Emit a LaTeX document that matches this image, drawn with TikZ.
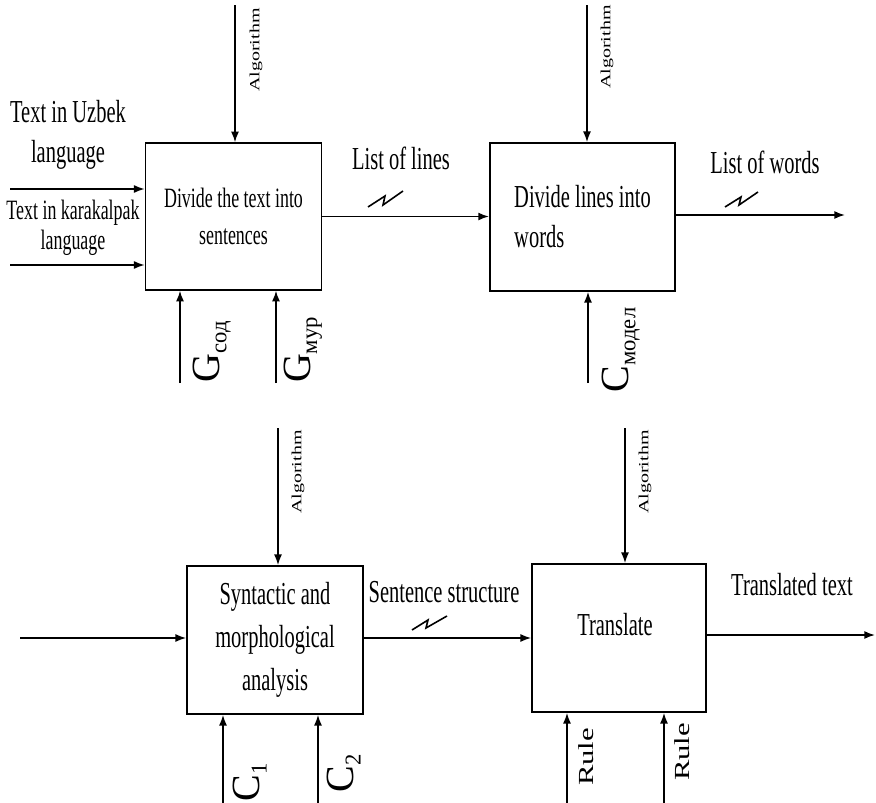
\documentclass[tikz,border=0pt]{standalone}
\usepackage{graphicx}
\usepackage{fontspec}
\setmainfont{Liberation Serif}[FakeStretch=0.64]
\newfontfamily\upfont{Liberation Serif}
\usetikzlibrary{arrows.meta}

% narrow text for the rotated labels
\newcommand{\thin}[1]{\scalebox{1}[0.7]{#1}}
\newcommand{\sublbl}[2]{#1\raisebox{-5pt}{\fontsize{17}{17}\selectfont #2}}

\tikzset{
  process/.style={draw, line width=1.3pt, inner sep=0pt, align=center,
    font=\fontsize{24}{30}\selectfont},
  flow/.style={font=\fontsize{24}{30}\selectfont},
  ctrl/.style={rotate=90, font=\upfont\fontsize{15}{15}\selectfont},
  mech/.style={rotate=90, font=\upfont\fontsize{30}{30}\selectfont},
  squig/.style={line width=1.2pt}
}

\begin{document}
\begin{tikzpicture}[x=0.75pt, y=-0.75pt, >={Latex[length=8pt,width=6pt]}, line width=1.2pt]
    \useasboundingbox (0,0) rectangle (876,803);

    % First row of boxes
    \node[process, minimum width=132pt, minimum height=110pt,
      font=\fontsize{21}{28}\selectfont] (box1) at (233.5,216.5) {Divide the text into\\sentences};
    \node[process, minimum width=139pt, minimum height=111pt, align=left] (box2) at (582.5,217) {Divide lines into\\words};

    % Second row of boxes
    \node[process, minimum width=132pt, minimum height=111pt,
      font=\fontsize{24}{32}\selectfont] (box3) at (275,640) {Syntactic and\\morphological\\analysis};
    \node[process, minimum width=130.5pt, minimum height=111pt] (box4) at (619,638) {};
    \node[flow] (trans) at (615,625) {Translate};

    % Inputs
    \node[flow, align=center] (uzLbl) at (68,135) {Text in Uzbek\\language};
    \node[flow, align=center, font=\fontsize{21}{22.5}\selectfont] (kkLbl) at (73,228) {Text in karakalpak\\language};
    \coordinate (uzIn) at (10,189);
    \coordinate (kkIn) at (10,265);
    \coordinate (b3In) at (20,638);
    \draw[->] (uzIn) -- (uzIn -| box1.west);
    \draw[->] (kkIn) -- (kkIn -| box1.west);
    \draw[->] (b3In) -- (b3In -| box3.west);

    % Outputs
    \node[flow] (linesLbl) at (401,158) {List of lines};
    \node[flow] (wordsLbl) at (765,162) {List of words};
    \node[flow] (structLbl) at (444,592) {Sentence structure};
    \node[flow] (textLbl) at (792,585) {Translated text};
    \coordinate (wordsOut) at (845,215);
    \coordinate (textOut) at (875,635);
    \draw[->] (box1.east) -- (box1.east -| box2.west);
    \draw[->] (box2.east |- wordsOut) -- (wordsOut);
    \draw[->] (box3.east |- box4) -- (box4.west);
    \draw[->] (box4.east |- textOut) -- (textOut);

    % Squiggles
    \draw[squig] (368,207) -- (385,196) -- (383,205) -- (403,191);
    \draw[squig] (725,207) -- (741,197) -- (739,205) -- (758,192);
    \draw[squig] (412,630) -- (428,620) -- (426,628) -- (447,616);

    % Controls
    \coordinate (alg1) at (235,5);
    \coordinate (alg2) at (587,5);
    \coordinate (alg3) at (278,428);
    \coordinate (alg4) at (625,428);
    \draw[->] (alg1) -- (alg1 |- box1.north);
    \draw[->] (alg2) -- (alg2 |- box2.north);
    \draw[->] (alg3) -- (alg3 |- box3.north);
    \draw[->] (alg4) -- (alg4 |- box4.north);
    \node[ctrl] (algLbl1) at (256,50) {\thin{Algorithm}};
    \node[ctrl] (algLbl2) at (607,47) {\thin{Algorithm}};
    \node[ctrl] (algLbl3) at (298,472) {\thin{Algorithm}};
    \node[ctrl] (algLbl4) at (645,472) {\thin{Algorithm}};

    % Mechanisms
    \coordinate (gSod) at (180,383);
    \coordinate (gMur) at (276,383);
    \coordinate (cMod) at (588,383);
    \coordinate (cOne) at (223,803);
    \coordinate (cTwo) at (318,803);
    \coordinate (ruleA) at (567,803);
    \coordinate (ruleB) at (664,803);
    \draw[->] (gSod) -- (gSod |- box1.south);
    \draw[->] (gMur) -- (gMur |- box1.south);
    \draw[->] (cMod) -- (cMod |- box2.south);
    \draw[->] (cOne) -- (cOne |- box3.south);
    \draw[->] (cTwo) -- (cTwo |- box3.south);
    \draw[->] (ruleA) -- (ruleA |- box4.south);
    \draw[->] (ruleB) -- (ruleB |- box4.south);
    \node[mech] (gSodLbl) at (212,352) {\sublbl{G}{сод}};
    \node[mech] (gMurLbl) at (303,350) {\sublbl{G}{мур}};
    \node[mech] (cModLbl) at (621,350) {\sublbl{C}{модел}};
    \node[mech] (cOneLbl) at (250,782) {\sublbl{C}{1}};
    \node[mech] (cTwoLbl) at (344,773) {\sublbl{C}{2}};
    \node[ctrl, font=\upfont\fontsize{23}{23}\selectfont] (ruleLblA) at (586,757) {\thin{Rule}};
    \node[ctrl, font=\upfont\fontsize{23}{23}\selectfont] (ruleLblB) at (682,752) {\thin{Rule}};
\end{tikzpicture}
\end{document}
